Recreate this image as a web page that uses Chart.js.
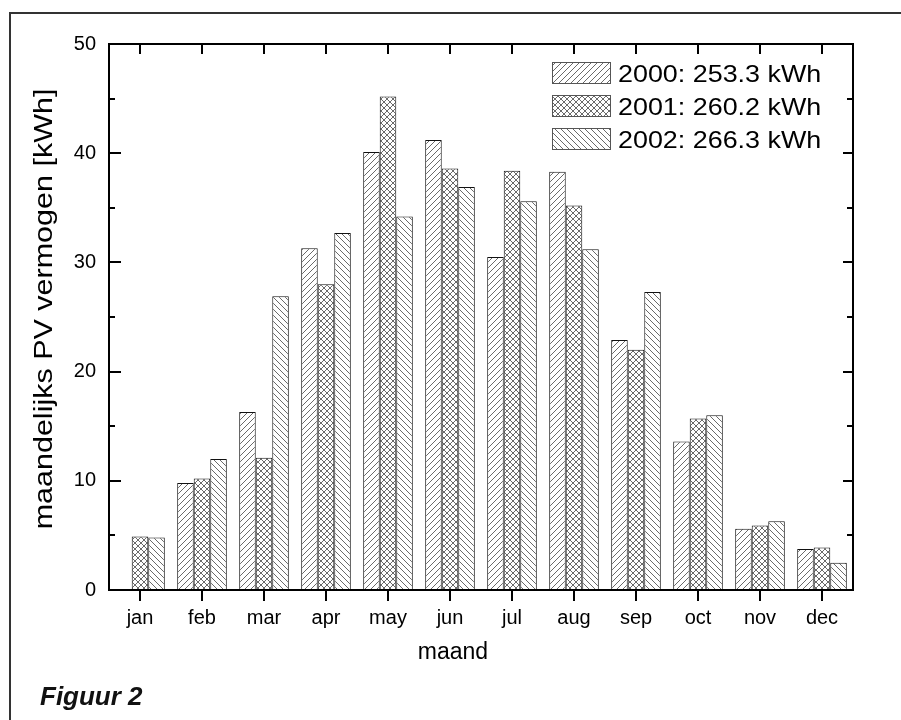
<!DOCTYPE html>
<html>
<head>
<meta charset="utf-8">
<script src="https://cdn.jsdelivr.net/npm/chart.js@4.4.1/dist/chart.umd.min.js"></script>
<style>
  body { margin: 0; background: #fff; }
  canvas { display: block; }
</style>
</head>
<body>
<canvas id="chart" width="901" height="720"></canvas>
<script>
var months = ['jan', 'feb', 'mar', 'apr', 'may', 'jun', 'jul', 'aug', 'sep', 'oct', 'nov', 'dec'];
var y2000 = [null, 9.8, 16.3, 31.3, 40.1, 41.2, 30.5, 38.3, 22.9, 13.6, 5.6, 3.75];
var y2001 = [4.9, 10.2, 12.1, 28.0, 45.2, 38.6, 38.4, 35.2, 22.0, 15.7, 5.9, 3.9];
var y2002 = [4.8, 12.0, 26.9, 32.7, 34.2, 36.9, 35.6, 31.2, 27.3, 16.0, 6.3, 2.5];
var legendLabels = ['2000: 253.3 kWh', '2001: 260.2 kWh', '2002: 266.3 kWh'];
var yMin = 0, yMax = 50, yStep = 10;
var yTitle = 'maandelijks PV vermogen [kWh]';
var xTitle = 'maand';
var caption = 'Figuur 2';

var font = '"Liberation Sans", Arial, sans-serif';

// hatch patterns: '/', 'x', '\'
function hatch(kind){
  var s = 6;
  var c = document.createElement('canvas');
  c.width = s; c.height = s;
  var g = c.getContext('2d');
  g.fillStyle = '#fff';
  g.fillRect(0, 0, s, s);
  g.strokeStyle = '#444';
  g.lineWidth = 0.8;
  function fwd(){
    g.beginPath();
    g.moveTo(-1, s + 1); g.lineTo(s + 1, -1);
    g.moveTo(-1, 1); g.lineTo(1, -1);
    g.moveTo(s - 1, s + 1); g.lineTo(s + 1, s - 1);
    g.stroke();
  }
  function back(){
    g.beginPath();
    g.moveTo(-1, -1); g.lineTo(s + 1, s + 1);
    g.moveTo(s - 1, -1); g.lineTo(s + 1, 1);
    g.moveTo(-1, s - 1); g.lineTo(1, s + 1);
    g.stroke();
  }
  if(kind == '/'){ fwd(); }
  if(kind == '\\'){ back(); }
  if(kind == 'x'){ fwd(); back(); }
  return g.createPattern(c, 'repeat');
}
var patterns = [hatch('/'), hatch('x'), hatch('\\')];

// text a little wider than the font, like the original
function wideText(ctx, text, x, y, sx, angle){
  ctx.save();
  ctx.translate(x, y);
  if(angle){ ctx.rotate(angle); }
  ctx.scale(sx, 1);
  ctx.fillText(text, 0, 0);
  ctx.restore();
}

var framePlugin = {
  id: 'frame',
  afterDraw: function(chart){
    var ctx = chart.ctx;
    var a = chart.chartArea;
    var x = chart.scales.x, y = chart.scales.y;
    ctx.save();
    // outer figure frame
    ctx.strokeStyle = '#333';
    ctx.lineWidth = 2;
    ctx.beginPath();
    ctx.moveTo(10, 721); ctx.lineTo(10, 13); ctx.lineTo(902, 13);
    ctx.stroke();

    ctx.strokeStyle = '#000';
    ctx.lineWidth = 2;
    ctx.strokeRect(a.left, a.top, a.right - a.left, a.bottom - a.top);

    // y ticks, inward on both sides
    ctx.beginPath();
    for(var v = yMin; v <= yMax; v += yStep / 2){
      var py = Math.round(y.getPixelForValue(v));
      var major = (v % yStep) == 0;
      ctx.moveTo(a.left, py); ctx.lineTo(a.left + (major ? 12 : 6), py);
      ctx.moveTo(a.right, py); ctx.lineTo(a.right - (major ? 10 : 6), py);
    }
    // x ticks, out at the bottom, in at the top
    for(var i = 0; i < months.length; i++){
      var px = Math.round(x.getPixelForValue(i));
      ctx.moveTo(px, a.bottom); ctx.lineTo(px, a.bottom + 11);
      ctx.moveTo(px, a.top); ctx.lineTo(px, a.top + 10);
    }
    ctx.stroke();

    // axis titles
    ctx.fillStyle = '#000';
    ctx.textAlign = 'center';
    ctx.textBaseline = 'alphabetic';
    ctx.font = '25px ' + font;
    wideText(ctx, yTitle, 52, 309, 1.22, -Math.PI / 2);
    ctx.font = '23px ' + font;
    ctx.fillText(xTitle, 453, 659);

    // legend
    ctx.textAlign = 'left';
    ctx.font = '24px ' + font;
    for(var j = 0; j < legendLabels.length; j++){
      var top = 62 + j * 33;
      ctx.fillStyle = chart.data.datasets[j].backgroundColor;
      ctx.fillRect(552, top, 59, 22);
      ctx.strokeStyle = '#555';
      ctx.lineWidth = 1;
      ctx.strokeRect(552.5, top + 0.5, 58, 21);
      ctx.fillStyle = '#000';
      wideText(ctx, legendLabels[j], 618, top + 20, 1.12, 0);
    }

    // caption
    ctx.font = 'italic bold 26px ' + font;
    ctx.fillStyle = '#111';
    ctx.fillText(caption, 40, 705);
    ctx.restore();
  }
};

var series = [y2000, y2001, y2002];
var chart = new Chart(document.getElementById('chart'), {
  type: 'bar',
  data: {
    labels: months,
    datasets: series.map(function(values, index){
      return {
        label: legendLabels[index],
        data: values,
        backgroundColor: patterns[index],
        borderColor: '#111',
        borderWidth: 1,
        categoryPercentage: 0.8,
        barPercentage: 1.0
      };
    })
  },
  options: {
    responsive: false,
    animation: false,
    layout: { padding: { left: 0, top: 44, right: 48, bottom: 0 } },
    plugins: {
      legend: { display: false },
      tooltip: { enabled: false }
    },
    scales: {
      x: {
        grid: { display: false, drawTicks: false },
        border: { display: false },
        ticks: { color: '#000', font: { family: font, size: 20 }, padding: 16 },
        afterFit: function(scale){ scale.height = 130; }
      },
      y: {
        min: yMin,
        max: yMax,
        grid: { display: false, drawTicks: false },
        border: { display: false },
        ticks: { stepSize: yStep, color: '#000', font: { family: font, size: 20 }, padding: 13 },
        afterFit: function(scale){ scale.width = 109; }
      }
    }
  },
  plugins: [framePlugin]
});
</script>
</body>
</html>
